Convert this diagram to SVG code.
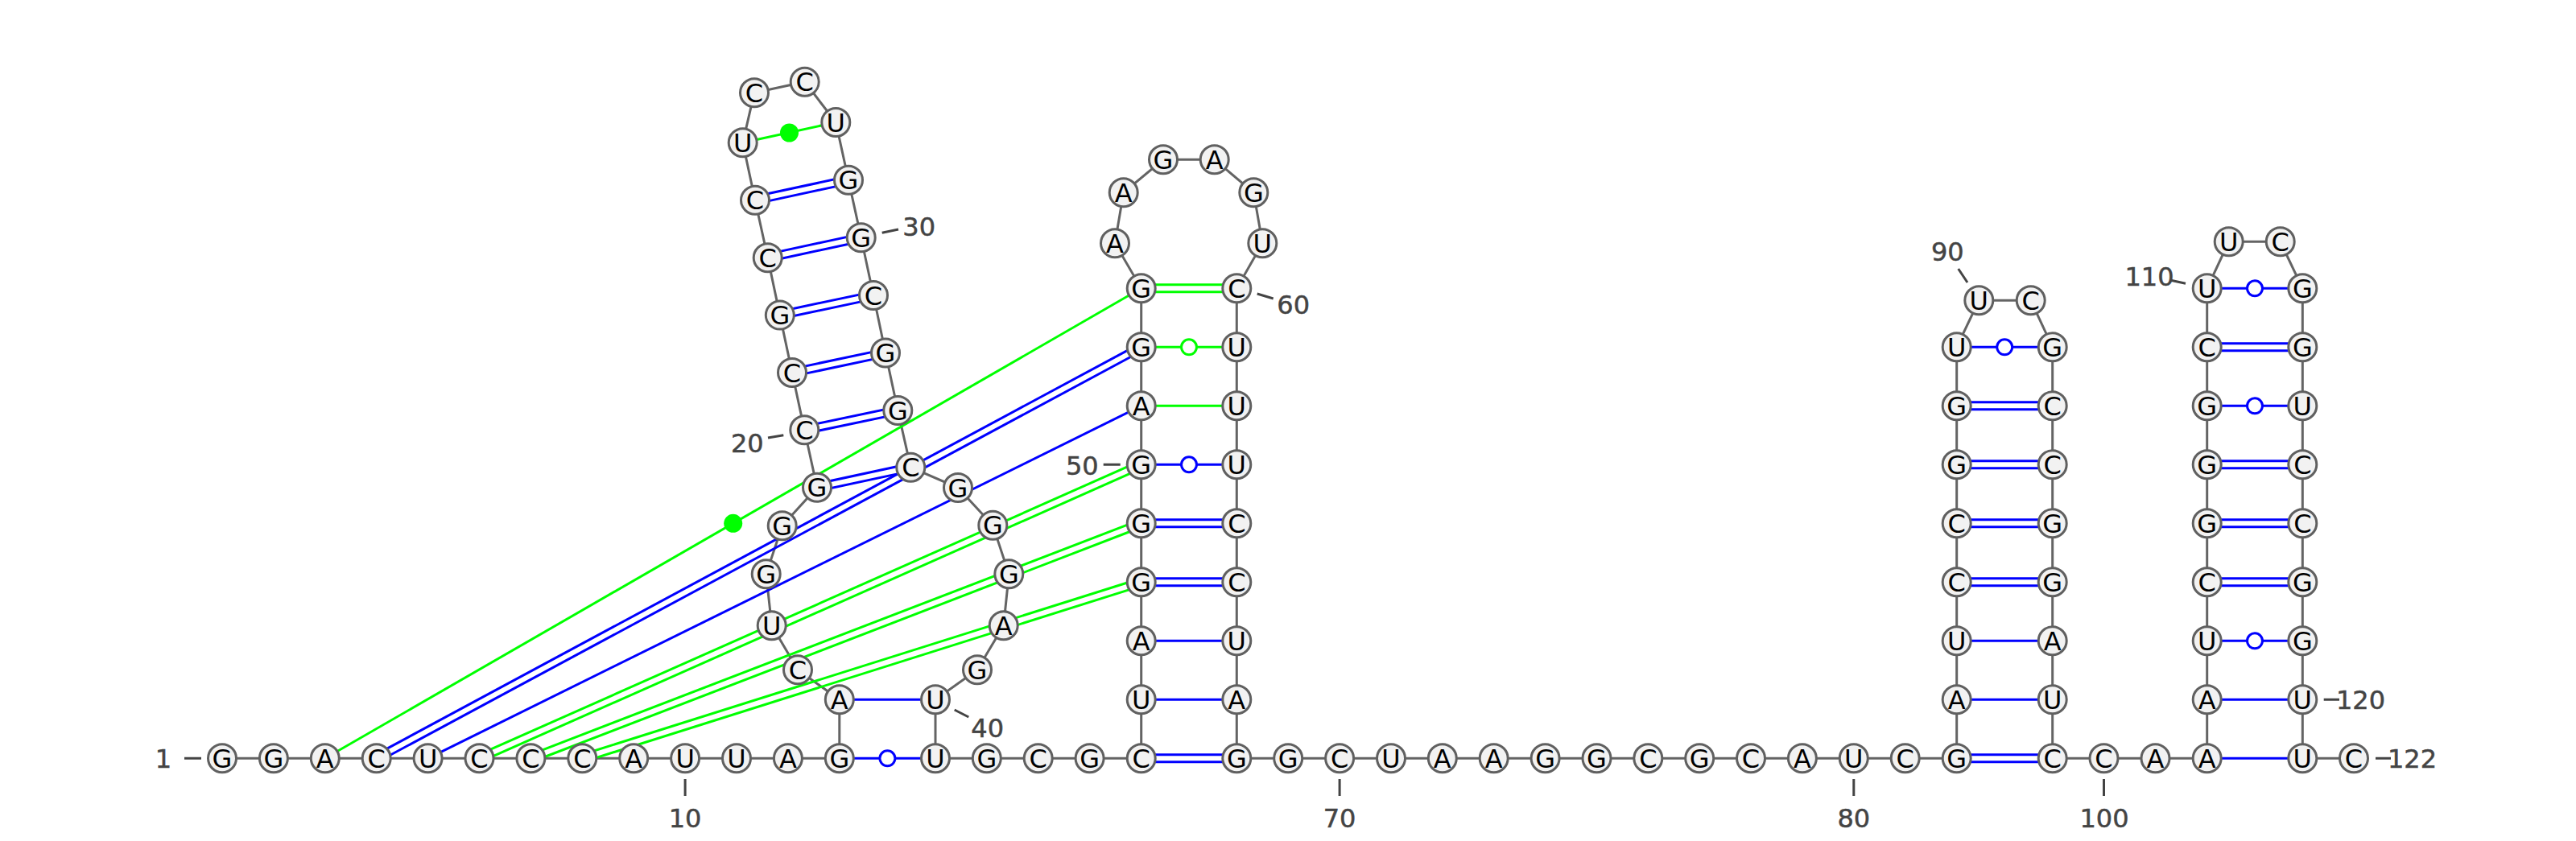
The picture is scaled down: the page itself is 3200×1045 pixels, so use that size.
<svg xmlns="http://www.w3.org/2000/svg" width="3200" height="1045" viewBox="0 0 3200 1045">
<style>
text{font-family:"DejaVu Sans","Liberation Sans",sans-serif}
.n circle{fill:#f2f2f2;stroke:#606060;stroke-width:3}
.n text{font-size:32px;fill:#000;text-anchor:middle}
.b{fill:none;stroke:#646464;stroke-width:3}
.p{fill:none;stroke-width:3}
.bl{stroke:#00f}.gr{stroke:#0f0}
.o{fill:#fff;stroke-width:3}
.f{fill:#0f0}
.t{stroke:#444;stroke-width:3;fill:none}
.l{font-size:32px;fill:#444;stroke:#444;stroke-width:.5}
.m{text-anchor:middle}
</style>
<rect width="3200" height="1045" fill="#fff"/>
<g id="connectors">
<path class="b" d="M276 942.3L339.9 942.3L403.8 942.3L467.7 942.3L531.6 942.3L595.5 942.3L659.4 942.3L723.3 942.3L787.2 942.3L851.1 942.3L915 942.3L978.9 942.3L1042.8 942.3L1042.8 869.3L991 832.3L958.7 777.3L951.7 713.3L971.7 653.3L1015 605.7L999.3 534.3L984 463L968.8 391.6L953.7 320.3L938 248.7L922.7 177.3L937 115.3L999.7 101.7L1038.3 152L1054 223.7L1069.7 295.3L1085 367L1100 438.5L1115.3 510L1131.3 580.7L1190 606L1233.3 652.7L1253.3 713.3L1246.7 777.3L1214 832.3L1162 869.3L1162 942.3L1225.8 942.3L1289.7 942.3L1353.6 942.3L1417.7 942.3L1417.7 869.3L1417.7 796.3L1417.7 723.3L1417.7 650.3L1417.7 577.3L1417.7 504.3L1417.7 431.3L1417.7 358.3L1385 302.3L1395.7 239.3L1445 198.3L1508.7 198.3L1557.3 239.3L1568.3 302.3L1536.3 358.3L1536.3 431.3L1536.3 504.3L1536.3 577.3L1536.3 650.3L1536.3 723.3L1536.3 796.3L1536.3 869.3L1536.3 942.3L1600.2 942.3L1664.1 942.3L1728 942.3L1791.8 942.3L1855.7 942.3L1919.6 942.3L1983.5 942.3L2047.3 942.3L2111.2 942.3L2175 942.3L2238.9 942.3L2302.8 942.3L2366.7 942.3L2430.7 942.3L2430.7 869.3L2430.7 796.3L2430.7 723.3L2430.7 650.3L2430.7 577.3L2430.7 504.3L2430.7 431.3L2458.3 373.3L2522.7 373.3L2549.7 431.3L2549.7 504.3L2549.7 577.3L2549.7 650.3L2549.7 723.3L2549.7 796.3L2549.7 869.3L2549.7 942.3L2613.5 942.3L2677.5 942.3L2741.7 942.3L2741.7 869.3L2741.7 796.3L2741.7 723.3L2741.7 650.3L2741.7 577.3L2741.7 504.3L2741.7 431.3L2741.7 358.3L2768.7 300.3L2832.7 300.3L2860.3 358.3L2860.3 431.3L2860.3 504.3L2860.3 577.3L2860.3 650.3L2860.3 723.3L2860.3 796.3L2860.3 869.3L2860.3 942.3L2924 942.3"/>
<path class="p gr" d="M403.8 942.3L1417.7 358.3"/>
<path class="p bl" d="M469.83 946.26L1419.83 435.26M465.57 938.34L1415.57 427.34"/>
<path class="p bl" d="M531.6 942.3L1417.7 504.3"/>
<path class="p gr" d="M597.33 946.41L1419.53 581.41M593.67 938.19L1415.87 573.19"/>
<path class="p gr" d="M661.02 946.5L1419.32 654.5M657.78 938.1L1416.08 646.1"/>
<path class="p gr" d="M724.65 946.59L1419.05 727.59M721.95 938.01L1416.35 719.01"/>
<path class="p bl" d="M1015.95 610.1L1132.25 585.1M1014.05 601.3L1130.35 576.3"/>
<path class="p bl" d="M1000.25 538.7L1116.25 514.4M998.35 529.9L1114.35 505.6"/>
<path class="p bl" d="M984.95 467.4L1100.95 442.9M983.05 458.6L1099.05 434.1"/>
<path class="p bl" d="M969.75 396L1085.95 371.4M967.85 387.2L1084.05 362.6"/>
<path class="p bl" d="M954.65 324.7L1070.65 299.7M952.75 315.9L1068.75 290.9"/>
<path class="p bl" d="M938.95 253.1L1054.95 228.1M937.05 244.3L1053.05 219.3"/>
<path class="p gr" d="M922.7 177.3L1038.3 152"/>
<path class="p bl" d="M1042.8 942.3L1162 942.3"/>
<path class="p bl" d="M1042.8 869.3L1162 869.3"/>
<path class="p bl" d="M1417.7 937.8L1536.3 937.8M1417.7 946.8L1536.3 946.8"/>
<path class="p bl" d="M1417.7 869.3L1536.3 869.3M1417.7 796.3L1536.3 796.3"/>
<path class="p bl" d="M1417.7 718.8L1536.3 718.8M1417.7 727.8L1536.3 727.8M1417.7 645.8L1536.3 645.8M1417.7 654.8L1536.3 654.8"/>
<path class="p bl" d="M1417.7 577.3L1536.3 577.3"/>
<path class="p gr" d="M1417.7 504.3L1536.3 504.3M1417.7 431.3L1536.3 431.3"/>
<path class="p gr" d="M1417.7 353.8L1536.3 353.8M1417.7 362.8L1536.3 362.8"/>
<path class="p bl" d="M2430.7 937.8L2549.7 937.8M2430.7 946.8L2549.7 946.8M2430.7 869.3L2549.7 869.3M2430.7 796.3L2549.7 796.3M2430.7 718.8L2549.7 718.8M2430.7 727.8L2549.7 727.8M2430.7 645.8L2549.7 645.8M2430.7 654.8L2549.7 654.8M2430.7 572.8L2549.7 572.8M2430.7 581.8L2549.7 581.8M2430.7 499.8L2549.7 499.8M2430.7 508.8L2549.7 508.8M2430.7 431.3L2549.7 431.3"/>
<path class="p bl" d="M2741.7 942.3L2860.3 942.3M2741.7 869.3L2860.3 869.3M2741.7 796.3L2860.3 796.3M2741.7 718.8L2860.3 718.8M2741.7 727.8L2860.3 727.8M2741.7 645.8L2860.3 645.8M2741.7 654.8L2860.3 654.8M2741.7 572.8L2860.3 572.8M2741.7 581.8L2860.3 581.8M2741.7 504.3L2860.3 504.3M2741.7 426.8L2860.3 426.8M2741.7 435.8L2860.3 435.8M2741.7 358.3L2860.3 358.3"/>
<circle class="f" cx="910.7" cy="650.3" r="11.5"/>
<circle class="f" cx="980.5" cy="165" r="11.5"/>
<circle class="o bl" cx="1102.4" cy="942.3" r="9.5"/>
<circle class="o bl" cx="1477" cy="577.3" r="9.5"/>
<circle class="o gr" cx="1477" cy="431.3" r="9.5"/>
<circle class="o bl" cx="2490.2" cy="431.3" r="9.5"/>
<circle class="o bl" cx="2801" cy="796.3" r="9.5"/>
<circle class="o bl" cx="2801" cy="504.3" r="9.5"/>
<circle class="o bl" cx="2801" cy="358.3" r="9.5"/>
</g>
<g id="ticks">
<path class="t" d="M229 942.3H250M851.1 968V989M1664.1 968V989M2302.8 968V989M2613.5 968V989M1095.7 289.3L1116 285M954 544L973.3 540.7M1561.7 365L1581.7 371M2432.7 334L2444 351M2696.7 348.3L2715 352.3M2886.7 869.3H2906M2951 942.3H2970M1370.7 577.3H1391.7M1185.7 882L1203.3 891"/>
</g>
<g id="labels">
<text class="l m" x="203" y="954">1</text>
<text class="l m" x="851.1" y="1027.7">10</text>
<text class="l m" x="1664.1" y="1027.7">70</text>
<text class="l m" x="2302.8" y="1027.7">80</text>
<text class="l m" x="2614" y="1027.7">100</text>
<text class="l m" x="928.3" y="562.4">20</text>
<text class="l m" x="1141.7" y="292.7">30</text>
<text class="l m" x="1226.7" y="915.7">40</text>
<text class="l m" x="1344.3" y="590">50</text>
<text class="l m" x="1606.7" y="390">60</text>
<text class="l m" x="2419.3" y="324">90</text>
<text class="l m" x="2670" y="355">110</text>
<text class="l" x="2902" y="881">120</text>
<text class="l" x="2966" y="954">122</text>
</g>
<g class="n" id="n1"><circle cx="276" cy="942.3" r="17.5"/><text x="276" y="953.8">G</text></g>
<g class="n" id="n2"><circle cx="339.9" cy="942.3" r="17.5"/><text x="339.9" y="953.8">G</text></g>
<g class="n" id="n3"><circle cx="403.8" cy="942.3" r="17.5"/><text x="403.8" y="953.8">A</text></g>
<g class="n" id="n4"><circle cx="467.7" cy="942.3" r="17.5"/><text x="467.7" y="953.8">C</text></g>
<g class="n" id="n5"><circle cx="531.6" cy="942.3" r="17.5"/><text x="531.6" y="953.8">U</text></g>
<g class="n" id="n6"><circle cx="595.5" cy="942.3" r="17.5"/><text x="595.5" y="953.8">C</text></g>
<g class="n" id="n7"><circle cx="659.4" cy="942.3" r="17.5"/><text x="659.4" y="953.8">C</text></g>
<g class="n" id="n8"><circle cx="723.3" cy="942.3" r="17.5"/><text x="723.3" y="953.8">C</text></g>
<g class="n" id="n9"><circle cx="787.2" cy="942.3" r="17.5"/><text x="787.2" y="953.8">A</text></g>
<g class="n" id="n10"><circle cx="851.1" cy="942.3" r="17.5"/><text x="851.1" y="953.8">U</text></g>
<g class="n" id="n11"><circle cx="915" cy="942.3" r="17.5"/><text x="915" y="953.8">U</text></g>
<g class="n" id="n12"><circle cx="978.9" cy="942.3" r="17.5"/><text x="978.9" y="953.8">A</text></g>
<g class="n" id="n13"><circle cx="1042.8" cy="942.3" r="17.5"/><text x="1042.8" y="953.8">G</text></g>
<g class="n" id="n14"><circle cx="1042.8" cy="869.3" r="17.5"/><text x="1042.8" y="880.8">A</text></g>
<g class="n" id="n15"><circle cx="991" cy="832.3" r="17.5"/><text x="991" y="843.8">C</text></g>
<g class="n" id="n16"><circle cx="958.7" cy="777.3" r="17.5"/><text x="958.7" y="788.8">U</text></g>
<g class="n" id="n17"><circle cx="951.7" cy="713.3" r="17.5"/><text x="951.7" y="724.8">G</text></g>
<g class="n" id="n18"><circle cx="971.7" cy="653.3" r="17.5"/><text x="971.7" y="664.8">G</text></g>
<g class="n" id="n19"><circle cx="1015" cy="605.7" r="17.5"/><text x="1015" y="617.2">G</text></g>
<g class="n" id="n20"><circle cx="999.3" cy="534.3" r="17.5"/><text x="999.3" y="545.8">C</text></g>
<g class="n" id="n21"><circle cx="984" cy="463" r="17.5"/><text x="984" y="474.5">C</text></g>
<g class="n" id="n22"><circle cx="968.8" cy="391.6" r="17.5"/><text x="968.8" y="403.1">G</text></g>
<g class="n" id="n23"><circle cx="953.7" cy="320.3" r="17.5"/><text x="953.7" y="331.8">C</text></g>
<g class="n" id="n24"><circle cx="938" cy="248.7" r="17.5"/><text x="938" y="260.2">C</text></g>
<g class="n" id="n25"><circle cx="922.7" cy="177.3" r="17.5"/><text x="922.7" y="188.8">U</text></g>
<g class="n" id="n26"><circle cx="937" cy="115.3" r="17.5"/><text x="937" y="126.8">C</text></g>
<g class="n" id="n27"><circle cx="999.7" cy="101.7" r="17.5"/><text x="999.7" y="113.2">C</text></g>
<g class="n" id="n28"><circle cx="1038.3" cy="152" r="17.5"/><text x="1038.3" y="163.5">U</text></g>
<g class="n" id="n29"><circle cx="1054" cy="223.7" r="17.5"/><text x="1054" y="235.2">G</text></g>
<g class="n" id="n30"><circle cx="1069.7" cy="295.3" r="17.5"/><text x="1069.7" y="306.8">G</text></g>
<g class="n" id="n31"><circle cx="1085" cy="367" r="17.5"/><text x="1085" y="378.5">C</text></g>
<g class="n" id="n32"><circle cx="1100" cy="438.5" r="17.5"/><text x="1100" y="450">G</text></g>
<g class="n" id="n33"><circle cx="1115.3" cy="510" r="17.5"/><text x="1115.3" y="521.5">G</text></g>
<g class="n" id="n34"><circle cx="1131.3" cy="580.7" r="17.5"/><text x="1131.3" y="592.2">C</text></g>
<g class="n" id="n35"><circle cx="1190" cy="606" r="17.5"/><text x="1190" y="617.5">G</text></g>
<g class="n" id="n36"><circle cx="1233.3" cy="652.7" r="17.5"/><text x="1233.3" y="664.2">G</text></g>
<g class="n" id="n37"><circle cx="1253.3" cy="713.3" r="17.5"/><text x="1253.3" y="724.8">G</text></g>
<g class="n" id="n38"><circle cx="1246.7" cy="777.3" r="17.5"/><text x="1246.7" y="788.8">A</text></g>
<g class="n" id="n39"><circle cx="1214" cy="832.3" r="17.5"/><text x="1214" y="843.8">G</text></g>
<g class="n" id="n40"><circle cx="1162" cy="869.3" r="17.5"/><text x="1162" y="880.8">U</text></g>
<g class="n" id="n41"><circle cx="1162" cy="942.3" r="17.5"/><text x="1162" y="953.8">U</text></g>
<g class="n" id="n42"><circle cx="1225.8" cy="942.3" r="17.5"/><text x="1225.8" y="953.8">G</text></g>
<g class="n" id="n43"><circle cx="1289.7" cy="942.3" r="17.5"/><text x="1289.7" y="953.8">C</text></g>
<g class="n" id="n44"><circle cx="1353.6" cy="942.3" r="17.5"/><text x="1353.6" y="953.8">G</text></g>
<g class="n" id="n45"><circle cx="1417.7" cy="942.3" r="17.5"/><text x="1417.7" y="953.8">C</text></g>
<g class="n" id="n46"><circle cx="1417.7" cy="869.3" r="17.5"/><text x="1417.7" y="880.8">U</text></g>
<g class="n" id="n47"><circle cx="1417.7" cy="796.3" r="17.5"/><text x="1417.7" y="807.8">A</text></g>
<g class="n" id="n48"><circle cx="1417.7" cy="723.3" r="17.5"/><text x="1417.7" y="734.8">G</text></g>
<g class="n" id="n49"><circle cx="1417.7" cy="650.3" r="17.5"/><text x="1417.7" y="661.8">G</text></g>
<g class="n" id="n50"><circle cx="1417.7" cy="577.3" r="17.5"/><text x="1417.7" y="588.8">G</text></g>
<g class="n" id="n51"><circle cx="1417.7" cy="504.3" r="17.5"/><text x="1417.7" y="515.8">A</text></g>
<g class="n" id="n52"><circle cx="1417.7" cy="431.3" r="17.5"/><text x="1417.7" y="442.8">G</text></g>
<g class="n" id="n53"><circle cx="1417.7" cy="358.3" r="17.5"/><text x="1417.7" y="369.8">G</text></g>
<g class="n" id="n54"><circle cx="1385" cy="302.3" r="17.5"/><text x="1385" y="313.8">A</text></g>
<g class="n" id="n55"><circle cx="1395.7" cy="239.3" r="17.5"/><text x="1395.7" y="250.8">A</text></g>
<g class="n" id="n56"><circle cx="1445" cy="198.3" r="17.5"/><text x="1445" y="209.8">G</text></g>
<g class="n" id="n57"><circle cx="1508.7" cy="198.3" r="17.5"/><text x="1508.7" y="209.8">A</text></g>
<g class="n" id="n58"><circle cx="1557.3" cy="239.3" r="17.5"/><text x="1557.3" y="250.8">G</text></g>
<g class="n" id="n59"><circle cx="1568.3" cy="302.3" r="17.5"/><text x="1568.3" y="313.8">U</text></g>
<g class="n" id="n60"><circle cx="1536.3" cy="358.3" r="17.5"/><text x="1536.3" y="369.8">C</text></g>
<g class="n" id="n61"><circle cx="1536.3" cy="431.3" r="17.5"/><text x="1536.3" y="442.8">U</text></g>
<g class="n" id="n62"><circle cx="1536.3" cy="504.3" r="17.5"/><text x="1536.3" y="515.8">U</text></g>
<g class="n" id="n63"><circle cx="1536.3" cy="577.3" r="17.5"/><text x="1536.3" y="588.8">U</text></g>
<g class="n" id="n64"><circle cx="1536.3" cy="650.3" r="17.5"/><text x="1536.3" y="661.8">C</text></g>
<g class="n" id="n65"><circle cx="1536.3" cy="723.3" r="17.5"/><text x="1536.3" y="734.8">C</text></g>
<g class="n" id="n66"><circle cx="1536.3" cy="796.3" r="17.5"/><text x="1536.3" y="807.8">U</text></g>
<g class="n" id="n67"><circle cx="1536.3" cy="869.3" r="17.5"/><text x="1536.3" y="880.8">A</text></g>
<g class="n" id="n68"><circle cx="1536.3" cy="942.3" r="17.5"/><text x="1536.3" y="953.8">G</text></g>
<g class="n" id="n69"><circle cx="1600.2" cy="942.3" r="17.5"/><text x="1600.2" y="953.8">G</text></g>
<g class="n" id="n70"><circle cx="1664.1" cy="942.3" r="17.5"/><text x="1664.1" y="953.8">C</text></g>
<g class="n" id="n71"><circle cx="1728" cy="942.3" r="17.5"/><text x="1728" y="953.8">U</text></g>
<g class="n" id="n72"><circle cx="1791.8" cy="942.3" r="17.5"/><text x="1791.8" y="953.8">A</text></g>
<g class="n" id="n73"><circle cx="1855.7" cy="942.3" r="17.5"/><text x="1855.7" y="953.8">A</text></g>
<g class="n" id="n74"><circle cx="1919.6" cy="942.3" r="17.5"/><text x="1919.6" y="953.8">G</text></g>
<g class="n" id="n75"><circle cx="1983.5" cy="942.3" r="17.5"/><text x="1983.5" y="953.8">G</text></g>
<g class="n" id="n76"><circle cx="2047.3" cy="942.3" r="17.5"/><text x="2047.3" y="953.8">C</text></g>
<g class="n" id="n77"><circle cx="2111.2" cy="942.3" r="17.5"/><text x="2111.2" y="953.8">G</text></g>
<g class="n" id="n78"><circle cx="2175" cy="942.3" r="17.5"/><text x="2175" y="953.8">C</text></g>
<g class="n" id="n79"><circle cx="2238.9" cy="942.3" r="17.5"/><text x="2238.9" y="953.8">A</text></g>
<g class="n" id="n80"><circle cx="2302.8" cy="942.3" r="17.5"/><text x="2302.8" y="953.8">U</text></g>
<g class="n" id="n81"><circle cx="2366.7" cy="942.3" r="17.5"/><text x="2366.7" y="953.8">C</text></g>
<g class="n" id="n82"><circle cx="2430.7" cy="942.3" r="17.5"/><text x="2430.7" y="953.8">G</text></g>
<g class="n" id="n83"><circle cx="2430.7" cy="869.3" r="17.5"/><text x="2430.7" y="880.8">A</text></g>
<g class="n" id="n84"><circle cx="2430.7" cy="796.3" r="17.5"/><text x="2430.7" y="807.8">U</text></g>
<g class="n" id="n85"><circle cx="2430.7" cy="723.3" r="17.5"/><text x="2430.7" y="734.8">C</text></g>
<g class="n" id="n86"><circle cx="2430.7" cy="650.3" r="17.5"/><text x="2430.7" y="661.8">C</text></g>
<g class="n" id="n87"><circle cx="2430.7" cy="577.3" r="17.5"/><text x="2430.7" y="588.8">G</text></g>
<g class="n" id="n88"><circle cx="2430.7" cy="504.3" r="17.5"/><text x="2430.7" y="515.8">G</text></g>
<g class="n" id="n89"><circle cx="2430.7" cy="431.3" r="17.5"/><text x="2430.7" y="442.8">U</text></g>
<g class="n" id="n90"><circle cx="2458.3" cy="373.3" r="17.5"/><text x="2458.3" y="384.8">U</text></g>
<g class="n" id="n91"><circle cx="2522.7" cy="373.3" r="17.5"/><text x="2522.7" y="384.8">C</text></g>
<g class="n" id="n92"><circle cx="2549.7" cy="431.3" r="17.5"/><text x="2549.7" y="442.8">G</text></g>
<g class="n" id="n93"><circle cx="2549.7" cy="504.3" r="17.5"/><text x="2549.7" y="515.8">C</text></g>
<g class="n" id="n94"><circle cx="2549.7" cy="577.3" r="17.5"/><text x="2549.7" y="588.8">C</text></g>
<g class="n" id="n95"><circle cx="2549.7" cy="650.3" r="17.5"/><text x="2549.7" y="661.8">G</text></g>
<g class="n" id="n96"><circle cx="2549.7" cy="723.3" r="17.5"/><text x="2549.7" y="734.8">G</text></g>
<g class="n" id="n97"><circle cx="2549.7" cy="796.3" r="17.5"/><text x="2549.7" y="807.8">A</text></g>
<g class="n" id="n98"><circle cx="2549.7" cy="869.3" r="17.5"/><text x="2549.7" y="880.8">U</text></g>
<g class="n" id="n99"><circle cx="2549.7" cy="942.3" r="17.5"/><text x="2549.7" y="953.8">C</text></g>
<g class="n" id="n100"><circle cx="2613.5" cy="942.3" r="17.5"/><text x="2613.5" y="953.8">C</text></g>
<g class="n" id="n101"><circle cx="2677.5" cy="942.3" r="17.5"/><text x="2677.5" y="953.8">A</text></g>
<g class="n" id="n102"><circle cx="2741.7" cy="942.3" r="17.5"/><text x="2741.7" y="953.8">A</text></g>
<g class="n" id="n103"><circle cx="2741.7" cy="869.3" r="17.5"/><text x="2741.7" y="880.8">A</text></g>
<g class="n" id="n104"><circle cx="2741.7" cy="796.3" r="17.5"/><text x="2741.7" y="807.8">U</text></g>
<g class="n" id="n105"><circle cx="2741.7" cy="723.3" r="17.5"/><text x="2741.7" y="734.8">C</text></g>
<g class="n" id="n106"><circle cx="2741.7" cy="650.3" r="17.5"/><text x="2741.7" y="661.8">G</text></g>
<g class="n" id="n107"><circle cx="2741.7" cy="577.3" r="17.5"/><text x="2741.7" y="588.8">G</text></g>
<g class="n" id="n108"><circle cx="2741.7" cy="504.3" r="17.5"/><text x="2741.7" y="515.8">G</text></g>
<g class="n" id="n109"><circle cx="2741.7" cy="431.3" r="17.5"/><text x="2741.7" y="442.8">C</text></g>
<g class="n" id="n110"><circle cx="2741.7" cy="358.3" r="17.5"/><text x="2741.7" y="369.8">U</text></g>
<g class="n" id="n111"><circle cx="2768.7" cy="300.3" r="17.5"/><text x="2768.7" y="311.8">U</text></g>
<g class="n" id="n112"><circle cx="2832.7" cy="300.3" r="17.5"/><text x="2832.7" y="311.8">C</text></g>
<g class="n" id="n113"><circle cx="2860.3" cy="358.3" r="17.5"/><text x="2860.3" y="369.8">G</text></g>
<g class="n" id="n114"><circle cx="2860.3" cy="431.3" r="17.5"/><text x="2860.3" y="442.8">G</text></g>
<g class="n" id="n115"><circle cx="2860.3" cy="504.3" r="17.5"/><text x="2860.3" y="515.8">U</text></g>
<g class="n" id="n116"><circle cx="2860.3" cy="577.3" r="17.5"/><text x="2860.3" y="588.8">C</text></g>
<g class="n" id="n117"><circle cx="2860.3" cy="650.3" r="17.5"/><text x="2860.3" y="661.8">C</text></g>
<g class="n" id="n118"><circle cx="2860.3" cy="723.3" r="17.5"/><text x="2860.3" y="734.8">G</text></g>
<g class="n" id="n119"><circle cx="2860.3" cy="796.3" r="17.5"/><text x="2860.3" y="807.8">G</text></g>
<g class="n" id="n120"><circle cx="2860.3" cy="869.3" r="17.5"/><text x="2860.3" y="880.8">U</text></g>
<g class="n" id="n121"><circle cx="2860.3" cy="942.3" r="17.5"/><text x="2860.3" y="953.8">U</text></g>
<g class="n" id="n122"><circle cx="2924" cy="942.3" r="17.5"/><text x="2924" y="953.8">C</text></g>
</svg>
